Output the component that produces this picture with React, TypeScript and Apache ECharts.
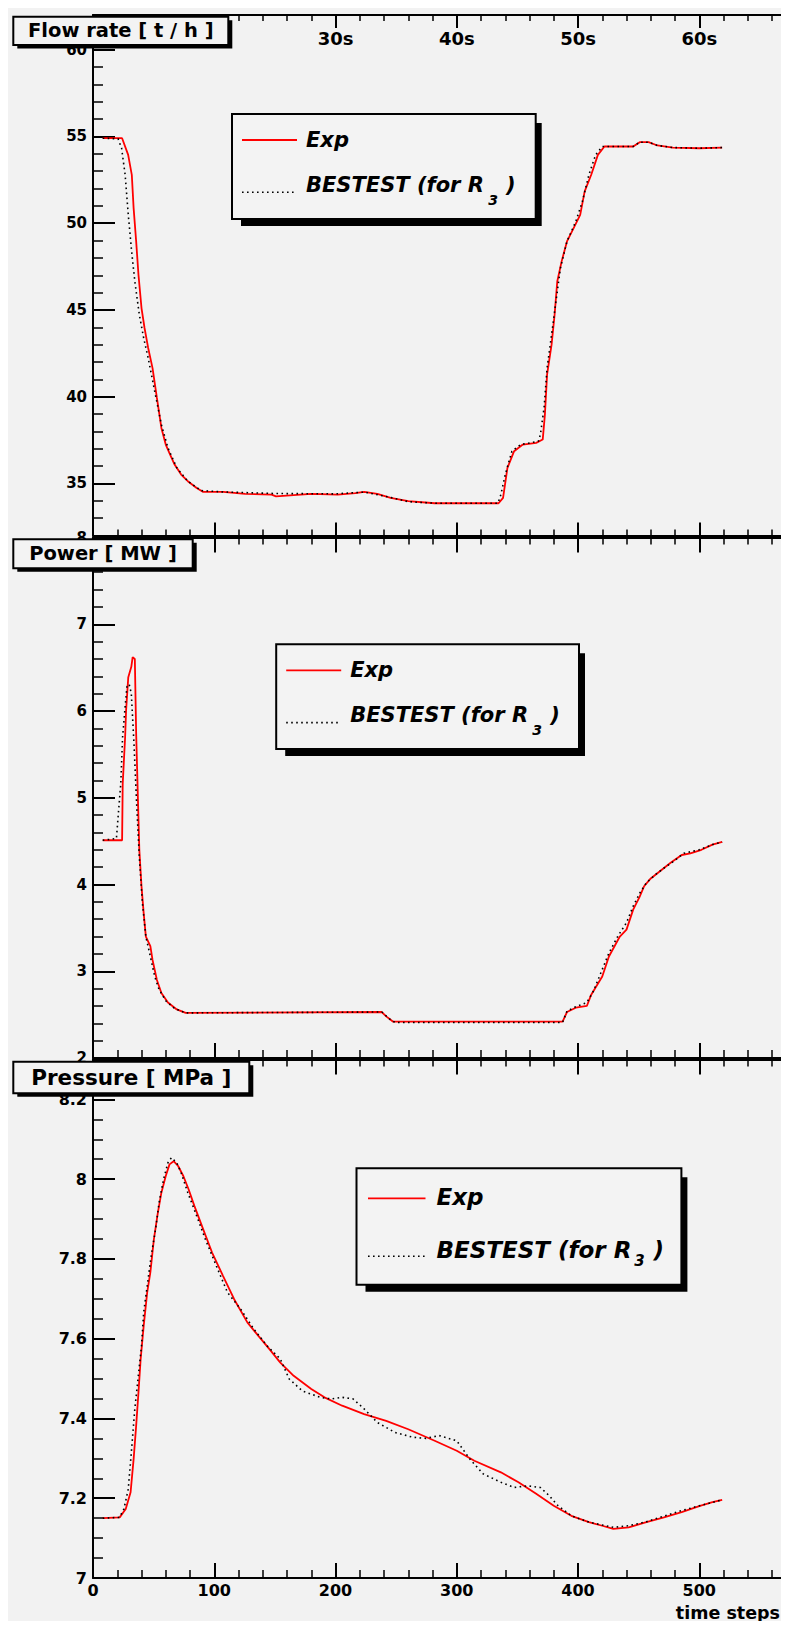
import React, { useEffect, useRef } from "react";
import * as echarts from "echarts";

// ---------- data (time steps, values) ----------
const flowExpSteps = [8, 24, 29, 32, 33.5, 35.6, 37.5, 40, 42.5, 45.5, 49.1, 52.7, 56.4, 60, 63.6, 67.3, 72.7, 78.2, 85.5, 90.9, 107.3, 125.5, 147.3, 150.9, 180, 201.8, 216.4, 223.6, 234.5, 245.5, 260, 281.8, 307.3, 334.5, 338.2, 341.8, 347.3, 354.5, 365.5, 370.9, 372.7, 374.5, 378.2, 380.7, 382.9, 386.5, 390.9, 396.4, 401.8, 405.5, 410.9, 416.4, 421.8, 445.5, 450.9, 458.2, 465.5, 478.2, 500, 518.9];
const flowExpValues = [54.9, 54.9, 53.94, 52.79, 50.87, 48.95, 47.03, 45.11, 43.96, 42.81, 41.65, 39.93, 38.2, 37.24, 36.66, 36.09, 35.51, 35.13, 34.74, 34.51, 34.51, 34.4, 34.36, 34.26, 34.4, 34.36, 34.44, 34.51, 34.4, 34.17, 33.98, 33.86, 33.86, 33.86, 34.17, 35.9, 36.86, 37.24, 37.34, 37.53, 38.97, 41.27, 43.0, 44.73, 46.64, 47.8, 48.95, 49.72, 50.48, 51.83, 52.79, 53.94, 54.42, 54.42, 54.67, 54.67, 54.48, 54.36, 54.32, 54.36];

const flowBestSteps = [8, 20.7, 23.6, 26.5, 29.1, 31.6, 34.5, 38.2, 41.8, 45.5, 50.9, 56.4, 61.8, 69.1, 78.2, 89.1, 107.3, 150, 200, 224, 245, 260, 282, 334, 336.4, 340, 345.5, 352.7, 367.3, 369, 372, 374.5, 378.2, 381.8, 385.5, 390.9, 398.2, 403.6, 409, 414.5, 420, 445.5, 450.9, 458.2, 465.5, 478.2, 500, 518.9];
const flowBestValues = [54.9, 54.86, 54.32, 52.79, 50.48, 48.56, 46.64, 44.73, 43.38, 42.23, 40.31, 38.39, 37.05, 35.9, 35.13, 34.59, 34.51, 34.42, 34.4, 34.5, 34.2, 33.95, 33.86, 33.86, 34.36, 35.51, 36.86, 37.24, 37.43, 37.82, 39.35, 41.65, 43.57, 45.49, 47.41, 48.95, 50.1, 51.25, 52.79, 53.94, 54.42, 54.42, 54.67, 54.67, 54.48, 54.36, 54.32, 54.36];

const powerExpSteps = [8, 24, 24.5, 26.5, 27.3, 29.1, 31.6, 32.7, 34.5, 35.6, 37, 38.2, 40, 41.8, 43.6, 47.3, 49.1, 52.7, 56.4, 61.8, 69.1, 76.4, 238.2, 241.8, 247.3, 387.3, 390.9, 398.2, 407.3, 410.9, 420, 425.5, 434.5, 440, 445.5, 450.9, 454.5, 460, 467.3, 476.4, 485.5, 492.7, 501.8, 510.9, 518.9];
const powerExpValues = [4.51, 4.51, 5.16, 5.7, 6.01, 6.39, 6.51, 6.62, 6.6, 5.74, 5.01, 4.4, 3.98, 3.67, 3.4, 3.29, 3.13, 2.9, 2.75, 2.64, 2.56, 2.52, 2.53, 2.48, 2.42, 2.42, 2.53, 2.58, 2.6, 2.73, 2.94, 3.17, 3.4, 3.48, 3.71, 3.86, 3.98, 4.07, 4.15, 4.25, 4.34, 4.36, 4.4, 4.46, 4.49];

const powerBestSteps = [8, 19.3, 20.7, 22.9, 24.4, 26.5, 28, 29.8, 31.6, 33.8, 36, 38.2, 40.7, 43.6, 47.3, 50.9, 54.5, 60, 67.3, 76.4, 238.2, 245.5, 249, 387.3, 390.9, 398, 407.3, 412.7, 420, 425.5, 432.7, 440, 445.5, 450.9, 456.4, 463.6, 470.9, 478.2, 487.3, 500, 510.9, 518.9];
const powerBestValues = [4.51, 4.53, 4.78, 5.16, 5.7, 6.05, 6.28, 6.31, 6.2, 5.62, 4.93, 4.32, 3.79, 3.4, 3.17, 2.94, 2.79, 2.66, 2.57, 2.52, 2.53, 2.44, 2.41, 2.41, 2.54, 2.59, 2.64, 2.77, 3.02, 3.21, 3.4, 3.56, 3.75, 3.9, 4.02, 4.11, 4.19, 4.26, 4.36, 4.4, 4.46, 4.49];

const pressExpSteps = [8, 22, 27, 31, 33.5, 35.6, 37.5, 39.3, 41.8, 44.7, 47.3, 50.2, 53.5, 56.4, 60, 63.1, 66.5, 70.2, 74.5, 78.9, 83.6, 90.9, 98.2, 107.3, 116.4, 127.3, 136.4, 145.5, 154.5, 165.5, 180, 190.9, 205.5, 223.6, 241.8, 260, 281.8, 300, 314.5, 336.4, 350.9, 365.5, 380, 394.5, 409, 420, 429.1, 441.8, 456.4, 470.9, 485.5, 500, 510.9, 518.9];
const pressExpValues = [7.15, 7.152, 7.173, 7.215, 7.298, 7.382, 7.465, 7.549, 7.632, 7.716, 7.766, 7.849, 7.916, 7.966, 8.008, 8.037, 8.045, 8.033, 8.008, 7.974, 7.933, 7.874, 7.816, 7.757, 7.699, 7.641, 7.607, 7.574, 7.54, 7.507, 7.474, 7.453, 7.432, 7.411, 7.394, 7.373, 7.344, 7.319, 7.294, 7.265, 7.24, 7.211, 7.181, 7.156, 7.14, 7.131, 7.123, 7.127, 7.14, 7.152, 7.165, 7.18, 7.19, 7.196];

const pressBestSteps = [8, 21.8, 25.5, 29.1, 31.6, 34.5, 37.1, 40, 41.8, 44.7, 48, 51.6, 54.5, 58.2, 61.8, 64.7, 69.1, 72.7, 78.2, 85.5, 92.7, 101.8, 110.9, 121.8, 132.7, 143.6, 154.5, 161.8, 172.7, 187.3, 196.4, 205.5, 214.5, 223.6, 234.5, 249, 263.6, 274.5, 285.5, 300, 310.9, 321.8, 336.4, 347.3, 358.2, 369, 376.4, 383.6, 394.5, 409, 429.1, 441.8, 456.4, 470.9, 485.5, 500, 518.9];
const pressBestValues = [7.15, 7.152, 7.173, 7.223, 7.315, 7.424, 7.499, 7.582, 7.666, 7.732, 7.808, 7.874, 7.941, 8.0, 8.041, 8.054, 8.041, 8.016, 7.966, 7.908, 7.849, 7.782, 7.716, 7.674, 7.624, 7.582, 7.549, 7.499, 7.469, 7.453, 7.449, 7.453, 7.449, 7.424, 7.39, 7.365, 7.353, 7.35, 7.357, 7.344, 7.298, 7.261, 7.24, 7.227, 7.231, 7.227, 7.206, 7.181, 7.156, 7.14, 7.127, 7.131, 7.141, 7.155, 7.169, 7.181, 7.196];

// ---------- ticks / labels ----------
const stepMajorTicks = [0, 100, 200, 300, 400, 500];
const stepMinorTicks = [0, 20, 40, 60, 80, 100, 120, 140, 160, 180, 200, 220, 240, 260, 280, 300, 320, 340, 360, 380, 400, 420, 440, 460, 480, 500, 520, 540, 560];
const timeLabelSteps = [200, 300, 400, 500];
const timeLabels = ["30s", "40s", "50s", "60s"];
const flowMajorTicks = [35, 40, 45, 50, 55, 60];
const flowMinorTicks = [32, 33, 34, 35, 36, 37, 38, 39, 40, 41, 42, 43, 44, 45, 46, 47, 48, 49, 50, 51, 52, 53, 54, 55, 56, 57, 58, 59, 60, 61, 62];
const powerMajorTicks = [2, 3, 4, 5, 6, 7, 8];
const powerMinorTicks = [2, 2.2, 2.4, 2.6, 2.8, 3, 3.2, 3.4, 3.6, 3.8, 4, 4.2, 4.4, 4.6, 4.8, 5, 5.2, 5.4, 5.6, 5.8, 6, 6.2, 6.4, 6.6, 6.8, 7, 7.2, 7.4, 7.6, 7.8, 8];
const pressMajorTicks = [7, 7.2, 7.4, 7.6, 7.8, 8, 8.2];
const pressMinorTicks = [7, 7.05, 7.1, 7.15, 7.2, 7.25, 7.3, 7.35, 7.4, 7.45, 7.5, 7.55, 7.6, 7.65, 7.7, 7.75, 7.8, 7.85, 7.9, 7.95, 8, 8.05, 8.1, 8.15, 8.2, 8.25, 8.3];

const panelTitles = ["Flow rate [ t / h ]", "Power [ MW ]", "Pressure [ MPa ]"];
const legendExp = "Exp";
const legendBest = "BESTEST (for R";
const legendSub = "3";
const xTitle = "time steps";

const FONT = "'DejaVu Sans', 'Liberation Sans', Arial, sans-serif";
const STEP_MIN = 0;
const STEP_MAX = 568;

function pairs(xs: number[], ys: number[]) {
  return xs.map((x, i) => [x, ys[i]]);
}

export default function App() {
  const ref = useRef<HTMLDivElement>(null);

  useEffect(() => {
    const chart = echarts.init(ref.current!, null, { renderer: "svg" });

    const panels = [
      { top: 7, height: 520.5, min: 32, max: 62, major: flowMajorTicks, minor: flowMinorTicks, labelSize: 15, exp: pairs(flowExpSteps, flowExpValues), best: pairs(flowBestSteps, flowBestValues) },
      { top: 529.5, height: 520.5, min: 2, max: 8, major: powerMajorTicks, minor: powerMinorTicks, labelSize: 15, exp: pairs(powerExpSteps, powerExpValues), best: pairs(powerBestSteps, powerBestValues) },
      { top: 1051.5, height: 518.5, min: 7, max: 8.3, major: pressMajorTicks, minor: pressMinorTicks, labelSize: 16, exp: pairs(pressExpSteps, pressExpValues), best: pairs(pressBestSteps, pressBestValues) },
    ];

    const grids: any[] = [];
    const xAxes: any[] = [];
    const yAxes: any[] = [];
    const series: any[] = [];

    const labelFont = { color: "#000", fontWeight: "bold", fontFamily: FONT };

    panels.forEach((p, i) => {
      grids.push({
        left: 85,
        width: 688.7,
        top: p.top,
        height: p.height,
        show: true,
        borderColor: "#777",
        borderWidth: 1,
        backgroundColor: "transparent",
        containLabel: false,
        outerBoundsMode: "none",
      });
      const baseX = {
        type: "value",
        gridIndex: i,
        min: STEP_MIN,
        max: STEP_MAX,
        splitLine: { show: false },
      };
      // bottom major
      xAxes.push({
        ...baseX,
        position: "bottom",
        axisLine: { show: true, onZero: false, lineStyle: { color: "#000", width: 2 } },
        axisTick: { show: true, inside: true, length: i === 0 ? 13 : 15, customValues: stepMajorTicks, lineStyle: { color: "#000", width: 2 } },
        axisLabel: { show: i === 2, customValues: stepMajorTicks, fontSize: 16, margin: 4, ...labelFont },
      });
      // bottom minor
      xAxes.push({
        ...baseX,
        position: "bottom",
        axisLine: { show: false, onZero: false },
        axisTick: { show: true, inside: true, length: i === 0 ? 6 : 8, customValues: stepMinorTicks, lineStyle: { color: "#000", width: 1.5 } },
        axisLabel: { show: false },
      });
      // top major
      xAxes.push({
        ...baseX,
        position: "top",
        axisLine: { show: true, onZero: false, lineStyle: { color: "#000", width: 2 } },
        axisTick: { show: true, inside: true, length: i === 0 ? 13 : 15, customValues: stepMajorTicks, lineStyle: { color: "#000", width: 2 } },
        axisLabel: {
          show: i === 0,
          inside: true,
          margin: 14,
          customValues: timeLabelSteps,
          fontSize: 18,
          formatter: (v: number) => {
            const k = timeLabelSteps.indexOf(Math.round(v));
            return k >= 0 ? timeLabels[k] : "";
          },
          ...labelFont,
        },
      });
      // top minor
      xAxes.push({
        ...baseX,
        position: "top",
        axisLine: { show: false, onZero: false },
        axisTick: { show: true, inside: true, length: i === 0 ? 6 : 7, customValues: stepMinorTicks, lineStyle: { color: "#000", width: 1.5 } },
        axisLabel: { show: false },
      });

      const baseY = {
        type: "value",
        gridIndex: i,
        min: p.min,
        max: p.max,
        position: "left",
        splitLine: { show: false },
      };
      yAxes.push({
        ...baseY,
        axisLine: { show: true, onZero: false, lineStyle: { color: "#000", width: 2 } },
        axisTick: { show: true, inside: true, length: 22, customValues: p.major, lineStyle: { color: "#000", width: 2 } },
        axisLabel: { show: true, customValues: p.major, fontSize: p.labelSize, margin: 6, ...labelFont },
      });
      yAxes.push({
        ...baseY,
        axisLine: { show: false, onZero: false },
        axisTick: { show: true, inside: true, length: 10, customValues: p.minor, lineStyle: { color: "#000", width: 1.5 } },
        axisLabel: { show: false },
      });

      series.push({
        type: "line",
        name: legendExp,
        xAxisIndex: i * 4,
        yAxisIndex: i * 2,
        data: p.exp,
        showSymbol: false,
        symbol: "none",
        silent: true,
        z: 3,
        lineStyle: { color: "#ff0000", width: 1.8 },
        itemStyle: { color: "#ff0000" },
      });
      series.push({
        type: "line",
        name: legendBest + legendSub + " )",
        xAxisIndex: i * 4,
        yAxisIndex: i * 2,
        data: p.best,
        showSymbol: false,
        symbol: "none",
        silent: true,
        z: 4,
        lineStyle: { color: "#000", width: 1.6, type: [1.6, 3.4] },
        itemStyle: { color: "#000" },
      });
    });

    const Z = 100;
    const titleBox = (x: number, y: number, w: number, h: number, text: string, size: number) => [
      { type: "rect", z: Z, shape: { x: x + 4, y: y + 3.5, width: w, height: h }, style: { fill: "#000" } },
      { type: "rect", z: Z + 1, shape: { x, y, width: w, height: h }, style: { fill: "#f3f3f3", stroke: "#000", lineWidth: 2 } },
      {
        type: "text", z: Z + 2, x: x + w / 2, y: y + h / 2 - 0.5,
        style: { text, fontSize: size, fontWeight: "bold", fontFamily: FONT, fill: "#000", align: "center", verticalAlign: "middle" },
      },
    ];

    const legendBox = (bx: number, by: number, w: number, h: number, L: any) => [
      { type: "rect", z: Z, shape: { x: bx + 9, y: by + 9, width: w - 3, height: h - 2 }, style: { fill: "#000" } },
      { type: "rect", z: Z + 1, shape: { x: bx, y: by, width: w, height: h }, style: { fill: "#f3f3f3", stroke: "#000", lineWidth: 2 } },
      { type: "line", z: Z + 2, shape: { x1: bx + L.x1, y1: by + L.redY, x2: bx + L.x2, y2: by + L.redY }, style: { stroke: "#ff0000", lineWidth: 1.8 } },
      {
        type: "text", z: Z + 2, x: bx + L.tx, y: by + L.expY,
        style: { text: legendExp, fontSize: L.fs, fontWeight: "bold", fontStyle: "italic", fontFamily: FONT, fill: "#000", align: "left", verticalAlign: "middle" },
      },
      { type: "line", z: Z + 2, shape: { x1: bx + L.x1, y1: by + L.dotY, x2: bx + L.x2, y2: by + L.dotY }, style: { stroke: "#000", lineWidth: 1.6, lineDash: [1.6, 3.4] } },
      {
        type: "text", z: Z + 2, x: bx + L.tx, y: by + L.bestY,
        style: { text: legendBest, fontSize: L.fs, fontWeight: "bold", fontStyle: "italic", fontFamily: FONT, fill: "#000", align: "left", verticalAlign: "middle" },
      },
      {
        type: "text", z: Z + 2, x: bx + L.subX, y: by + L.subY,
        style: { text: legendSub, fontSize: L.ss, fontWeight: "bold", fontStyle: "italic", fontFamily: FONT, fill: "#000", align: "center", verticalAlign: "middle" },
      },
      {
        type: "text", z: Z + 2, x: bx + L.parenX, y: by + L.bestY,
        style: { text: ")", fontSize: L.fs, fontWeight: "bold", fontStyle: "italic", fontFamily: FONT, fill: "#000", align: "left", verticalAlign: "middle" },
      },
    ];

    const layoutA = { x1: 10, x2: 65, redY: 26, tx: 74, expY: 25.5, dotY: 78.3, bestY: 70.5, subX: 261, subY: 86, parenX: 274, fs: 21, ss: 14 };
    const layoutB = { x1: 11.5, x2: 69, redY: 30, tx: 80, expY: 28.6, dotY: 88, bestY: 81.2, subX: 283, subY: 92.4, parenX: 297, fs: 23, ss: 15 };

    const graphic: any[] = [
      ...titleBox(5.3, 8.7, 215, 28.3, panelTitles[0], 19.5),
      ...titleBox(5.3, 531.3, 179.4, 29, panelTitles[1], 19.5),
      ...titleBox(5.3, 1053.7, 236, 31.6, panelTitles[2], 21.5),
      ...legendBox(224, 106, 303.7, 105, layoutA),
      ...legendBox(268.2, 636.3, 302.8, 104.7, layoutA),
      ...legendBox(348.5, 1160.3, 324.9, 116.4, layoutB),
      {
        type: "text", z: Z + 2, x: 772, y: 1604.7,
        style: { text: xTitle, fontSize: 17.5, fontWeight: "bold", fontFamily: FONT, fill: "#000", align: "right", verticalAlign: "middle" },
      },
    ];

    chart.setOption({
      animation: false,
      backgroundColor: "#f2f2f2",
      grid: grids,
      xAxis: xAxes,
      yAxis: yAxes,
      series,
      graphic,
    });

    return () => chart.dispose();
  }, []);

  return <div ref={ref} style={{ width: 781, height: 1621, marginBottom: -8 }} />;
}
